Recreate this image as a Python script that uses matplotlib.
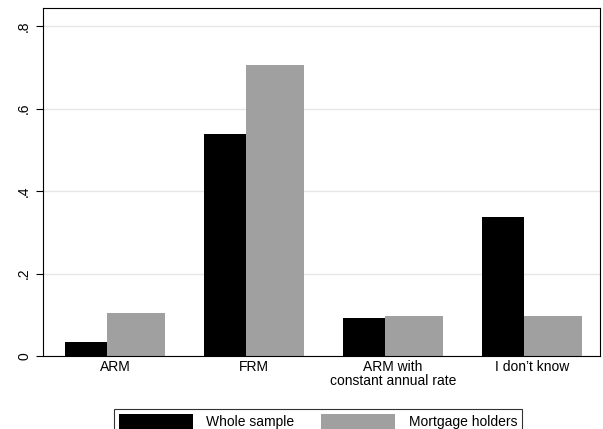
import matplotlib
matplotlib.use("Agg")
import matplotlib.pyplot as plt
import numpy as np

categories = ["ARM", "FRM", "ARM with\nconstant annual rate", "I don\u2019t know"]
whole = [0.035, 0.537, 0.093, 0.338]
holders = [0.105, 0.705, 0.097, 0.097]
yticks = [0, 0.2, 0.4, 0.6, 0.8]
yticklabels = ["0", ".2", ".4", ".6", ".8"]

plt.rcParams['font.family'] = ['Liberation Sans', 'DejaVu Sans']
fig = plt.figure(figsize=(6.03, 4.29), dpi=100)
ax = fig.add_axes([43/603, 73/429, 557/603, 348/429])
x = np.arange(len(categories))
wb, wg = 42/139, 58/139
ax.bar(x - 50/139, whole, wb, align='edge', color='black', label='Whole sample', zorder=2)
ax.bar(x - 8/139, holders, wg, align='edge', color='#a0a0a0', label='Mortgage holders', zorder=2)
ax.set_xlim(-72/139, 3 + (600-43-72-3*139)/139)
ax.set_ylim(0, 0.8 * 348 / 330)
ax.set_yticks(yticks)
ax.set_yticklabels(yticklabels, rotation=90, va='center', fontsize=10)
ax.yaxis.grid(True, color='#e6e6e6', linewidth=1, zorder=0)
ax.set_axisbelow(True)
ax.set_xticks(x)
ax.set_xticklabels(categories, fontsize=10, linespacing=1.0)
ax.tick_params(axis='x', length=0, pad=3)
ax.tick_params(axis='y', length=5, width=0.8)
for s in ax.spines.values():
    s.set_linewidth(0.8)
leg = fig.legend(loc='lower center', bbox_to_anchor=(318/603, -0.012), ncol=2,
                 frameon=True, fancybox=False, edgecolor='black', fontsize=10,
                 handlelength=5.3, handleheight=1.3, columnspacing=1.9,
                 borderpad=0.35, handletextpad=1.0, borderaxespad=0.0)
leg.get_frame().set_linewidth(0.8)
fig.savefig("out.png", dpi=100, facecolor='white')
